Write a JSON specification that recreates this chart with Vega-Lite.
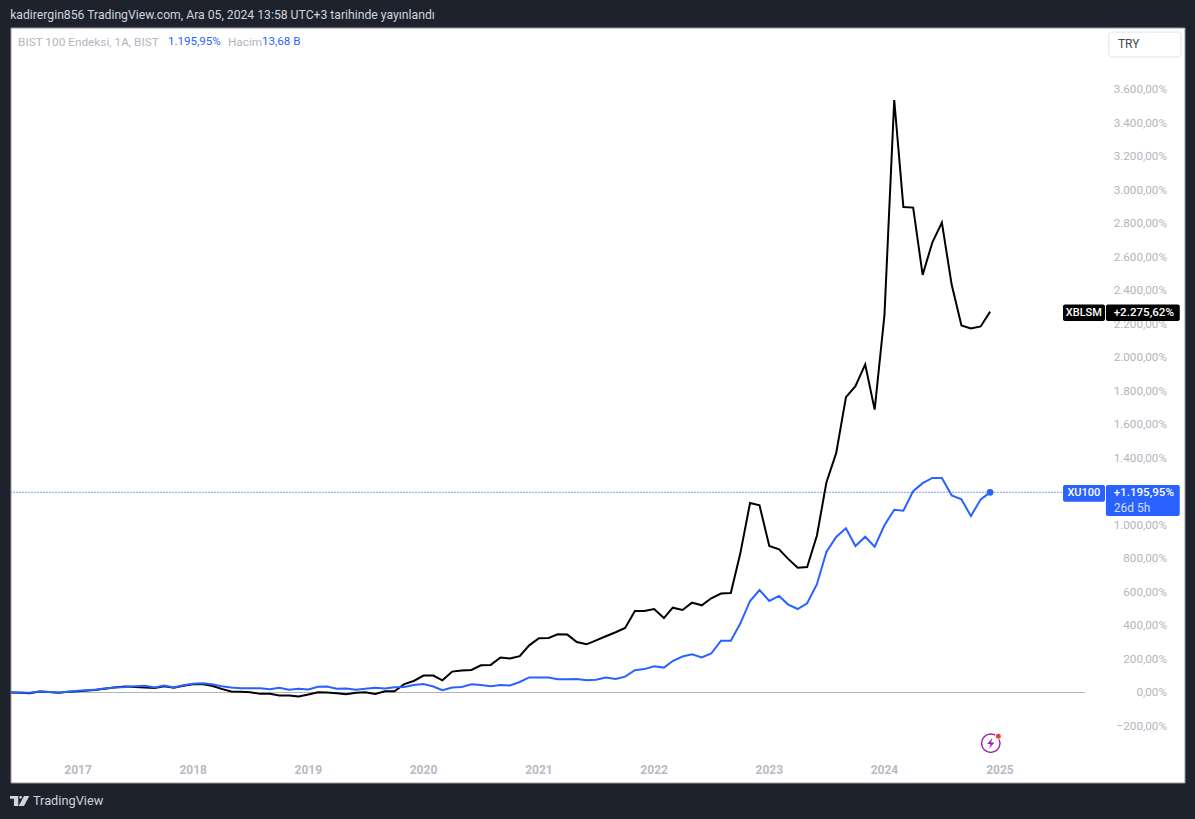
{
  "$schema": "https://vega.github.io/schema/vega-lite/v6.json",
  "description": "BIST 100 (XU100) and XBLSM percent change since 2016, monthly.",
  "autosize": "none",
  "width": 1174,
  "height": 755,
  "padding": {"left": 10.5, "top": 27.5, "right": 10.5, "bottom": 36},
  "background": "#1e222d",
  "view": {"fill": "#ffffff", "stroke": "#9598a1", "strokeWidth": 1},
  "config": {"font": "Roboto"},
  "datasets": {
    "monthly": [
      {"date":"2016-06-01","XBLSM":0,"XU100":0},{"date":"2016-07-01","XBLSM":-1,"XU100":0},{"date":"2016-08-01","XBLSM":-4,"XU100":-2},{"date":"2016-09-01","XBLSM":6,"XU100":6},{"date":"2016-10-01","XBLSM":3,"XU100":3},{"date":"2016-11-01","XBLSM":-1,"XU100":0},{"date":"2016-12-01","XBLSM":5,"XU100":5},
      {"date":"2017-01-01","XBLSM":8,"XU100":10},{"date":"2017-02-01","XBLSM":12,"XU100":14},{"date":"2017-03-01","XBLSM":16,"XU100":18},{"date":"2017-04-01","XBLSM":24,"XU100":25},{"date":"2017-05-01","XBLSM":32,"XU100":30},{"date":"2017-06-01","XBLSM":36,"XU100":33},{"date":"2017-07-01","XBLSM":33,"XU100":38},{"date":"2017-08-01","XBLSM":30,"XU100":40},{"date":"2017-09-01","XBLSM":27,"XU100":30},{"date":"2017-10-01","XBLSM":38,"XU100":42},{"date":"2017-11-01","XBLSM":28,"XU100":30},{"date":"2017-12-01","XBLSM":40,"XU100":44},
      {"date":"2018-01-01","XBLSM":50,"XU100":52},{"date":"2018-02-01","XBLSM":50,"XU100":55},{"date":"2018-03-01","XBLSM":40,"XU100":50},{"date":"2018-04-01","XBLSM":22,"XU100":38},{"date":"2018-05-01","XBLSM":6,"XU100":30},{"date":"2018-06-01","XBLSM":4,"XU100":26},{"date":"2018-07-01","XBLSM":2,"XU100":25},{"date":"2018-08-01","XBLSM":-8,"XU100":25},{"date":"2018-09-01","XBLSM":-8,"XU100":20},{"date":"2018-10-01","XBLSM":-18,"XU100":28},{"date":"2018-11-01","XBLSM":-18,"XU100":17},{"date":"2018-12-01","XBLSM":-24,"XU100":22},
      {"date":"2019-01-01","XBLSM":-12,"XU100":18},{"date":"2019-02-01","XBLSM":2,"XU100":34},{"date":"2019-03-01","XBLSM":0,"XU100":36},{"date":"2019-04-01","XBLSM":-4,"XU100":22},{"date":"2019-05-01","XBLSM":-10,"XU100":24},{"date":"2019-06-01","XBLSM":-2,"XU100":17},{"date":"2019-07-01","XBLSM":2,"XU100":22},{"date":"2019-08-01","XBLSM":-8,"XU100":28},{"date":"2019-09-01","XBLSM":8,"XU100":24},{"date":"2019-10-01","XBLSM":8,"XU100":32},{"date":"2019-11-01","XBLSM":50,"XU100":33},{"date":"2019-12-01","XBLSM":69,"XU100":45},
      {"date":"2020-01-01","XBLSM":101,"XU100":51},{"date":"2020-02-01","XBLSM":101,"XU100":36},{"date":"2020-03-01","XBLSM":73,"XU100":14},{"date":"2020-04-01","XBLSM":125,"XU100":30},{"date":"2020-05-01","XBLSM":131,"XU100":33},{"date":"2020-06-01","XBLSM":135,"XU100":49},{"date":"2020-07-01","XBLSM":163,"XU100":45},{"date":"2020-08-01","XBLSM":165,"XU100":37},{"date":"2020-09-01","XBLSM":209,"XU100":45},{"date":"2020-10-01","XBLSM":203,"XU100":42},{"date":"2020-11-01","XBLSM":217,"XU100":63},{"date":"2020-12-01","XBLSM":282,"XU100":90},
      {"date":"2021-01-01","XBLSM":324,"XU100":90},{"date":"2021-02-01","XBLSM":326,"XU100":90},{"date":"2021-03-01","XBLSM":348,"XU100":79},{"date":"2021-04-01","XBLSM":346,"XU100":79},{"date":"2021-05-01","XBLSM":302,"XU100":81},{"date":"2021-06-01","XBLSM":288,"XU100":73},{"date":"2021-07-01","XBLSM":312,"XU100":77},{"date":"2021-08-01","XBLSM":336,"XU100":90},{"date":"2021-09-01","XBLSM":360,"XU100":81},{"date":"2021-10-01","XBLSM":386,"XU100":95},{"date":"2021-11-01","XBLSM":487,"XU100":133},{"date":"2021-12-01","XBLSM":487,"XU100":140},
      {"date":"2022-01-01","XBLSM":499,"XU100":157},{"date":"2022-02-01","XBLSM":445,"XU100":149},{"date":"2022-03-01","XBLSM":507,"XU100":188},{"date":"2022-04-01","XBLSM":493,"XU100":215},{"date":"2022-05-01","XBLSM":537,"XU100":229},{"date":"2022-06-01","XBLSM":521,"XU100":209},{"date":"2022-07-01","XBLSM":563,"XU100":233},{"date":"2022-08-01","XBLSM":591,"XU100":310},{"date":"2022-09-01","XBLSM":595,"XU100":310},{"date":"2022-10-01","XBLSM":830,"XU100":412},{"date":"2022-11-01","XBLSM":1132,"XU100":547},{"date":"2022-12-01","XBLSM":1118,"XU100":612},
      {"date":"2023-01-01","XBLSM":875,"XU100":547},{"date":"2023-02-01","XBLSM":855,"XU100":577},{"date":"2023-03-01","XBLSM":800,"XU100":527},{"date":"2023-04-01","XBLSM":746,"XU100":499},{"date":"2023-05-01","XBLSM":750,"XU100":533},{"date":"2023-06-01","XBLSM":938,"XU100":647},{"date":"2023-07-01","XBLSM":1255,"XU100":840},{"date":"2023-08-01","XBLSM":1430,"XU100":929},{"date":"2023-09-01","XBLSM":1765,"XU100":981},{"date":"2023-10-01","XBLSM":1830,"XU100":875},{"date":"2023-11-01","XBLSM":1960,"XU100":931},{"date":"2023-12-01","XBLSM":1690,"XU100":871},
      {"date":"2024-01-01","XBLSM":2255,"XU100":999},{"date":"2024-02-01","XBLSM":3540,"XU100":1092},{"date":"2024-03-01","XBLSM":2900,"XU100":1086},{"date":"2024-04-01","XBLSM":2897,"XU100":1203},{"date":"2024-05-01","XBLSM":2495,"XU100":1251},{"date":"2024-06-01","XBLSM":2690,"XU100":1282},{"date":"2024-07-01","XBLSM":2808,"XU100":1282},{"date":"2024-08-01","XBLSM":2437,"XU100":1178},{"date":"2024-09-01","XBLSM":2193,"XU100":1154},{"date":"2024-10-01","XBLSM":2175,"XU100":1054},{"date":"2024-11-01","XBLSM":2187,"XU100":1154},{"date":"2024-12-01","XBLSM":2275.62,"XU100":1195.95}
    ],
    "refs": [
      {"name":"zero","date":"2016-06-01","end":"2025-09-28","value":0},
      {"name":"last","date":"2016-06-01","end":"2025-07-20","value":1195.95}
    ],
    "tags": [
      {"name":"try","date":"2025-12-12","end":"2026-07-29","value":3797,"top":3946},
      {"name":"black","date":"2025-07-20","end":"2025-11-30","value":2220,"top":2318},
      {"name":"black","date":"2025-12-03","end":"2026-07-25","value":2220,"top":2318},
      {"name":"blue","date":"2025-07-20","end":"2025-11-30","value":1140,"top":1240},
      {"name":"blue","date":"2025-12-03","end":"2026-07-25","value":1055,"top":1240}
    ],
    "notes": [
      {"kind":"header","date":"2016-05-31","value":4048,"text":"kadirergin856 TradingView.com, Ara 05, 2024 13:58 UTC+3 tarihinde yayınlandı"},
      {"kind":"legend","date":"2016-06-25","value":3886,"text":"BIST 100 Endeksi, 1A, BIST"},
      {"kind":"legendblue","date":"2017-10-13","value":3886,"text":"1.195,95%"},
      {"kind":"legend","date":"2018-04-21","value":3886,"text":"Hacim"},
      {"kind":"legendblue","date":"2018-08-07","value":3886,"text":"13,68 B"},
      {"kind":"footer","date":"2016-08-11","value":-648,"text":"TradingView"},
      {"kind":"try","date":"2026-01-10","value":3874,"text":"TRY"},
      {"kind":"tagname","date":"2025-09-24","value":2270,"text":"XBLSM"},
      {"kind":"tag","date":"2026-04-02","value":2270,"text":"+2.275,62%"},
      {"kind":"tagname","date":"2025-09-24","value":1192,"text":"XU100"},
      {"kind":"tag","date":"2026-04-02","value":1192,"text":"+1.195,95%"},
      {"kind":"countdown","date":"2025-12-28","value":1103,"text":"26d 5h"}
    ],
    "lastPoint": [{"date":"2024-12-01","value":1195.95}],
    "logo": [{"date":"2016-06-30","value":-648}],
    "ring": [{"date":"2024-12-03","value":-303}],
    "dot": [{"date":"2024-12-27","value":-261}]
  },
  "encoding": {
    "x": {
      "field": "date",
      "type": "temporal",
      "scale": {"type": "utc", "domain": ["2016-06-01", "2026-08-09"]},
      "axis": {
        "title": null,
        "grid": false,
        "domain": false,
        "ticks": false,
        "format": "%Y",
        "values": [{"year":2017,"utc":true},{"year":2018,"utc":true},{"year":2019,"utc":true},{"year":2020,"utc":true},{"year":2021,"utc":true},{"year":2022,"utc":true},{"year":2023,"utc":true},{"year":2024,"utc":true},{"year":2025,"utc":true}],
        "labelPadding": -18,
        "labelOffset": -0.5,
        "labelFontSize": 12,
        "labelFontWeight": "bold",
        "labelColor": "#b8bac4",
        "labelFlush": false,
        "labelOverlap": false
      }
    },
    "y": {
      "field": "value",
      "type": "quantitative",
      "scale": {"domain": [-537.5, 3973], "nice": false, "zero": false},
      "axis": {
        "title": null,
        "orient": "right",
        "grid": false,
        "domain": false,
        "ticks": false,
        "values": [-200,0,200,400,600,800,1000,1400,1600,1800,2000,2200,2400,2600,2800,3000,3200,3400,3600],
        "labelExpr": "replace(replace(replace(format(datum.value, ',.2f'), ',', '#'), '.', ','), '#', '.') + '%'",
        "labelAlign": "right",
        "labelPadding": -18,
        "labelOffset": -1,
        "labelFontSize": 11.7,
        "labelColor": "#b2b5be",
        "labelOverlap": false
      }
    }
  },
  "layer": [
    {
      "data": {"name": "refs", "format": {"parse": {"date": "date", "end": "date"}}},
      "transform": [{"filter": "datum.name === 'zero'"}],
      "mark": {"type": "rule", "color": "#b2b5be", "strokeWidth": 1},
      "encoding": {"x2": {"field": "end"}}
    },
    {
      "data": {"name": "refs", "format": {"parse": {"date": "date", "end": "date"}}},
      "transform": [{"filter": "datum.name === 'last'"}],
      "mark": {"type": "rule", "color": "#2962ff", "strokeWidth": 1.2, "strokeDash": [1, 2]},
      "encoding": {"x2": {"field": "end"}}
    },
    {
      "data": {"name": "monthly"},
      "transform": [{"fold": ["XBLSM", "XU100"], "as": ["series", "value"]}],
      "mark": {"type": "line", "strokeWidth": 2, "clip": true, "strokeJoin": "miter"},
      "encoding": {
        "color": {
          "field": "series",
          "type": "nominal",
          "scale": {"domain": ["XBLSM", "XU100"], "range": ["#000000", "#2962ff"]},
          "legend": null
        }
      }
    },
    {
      "data": {"name": "lastPoint"},
      "mark": {"type": "point", "filled": true, "color": "#2962ff", "size": 45, "opacity": 1}
    },
    {
      "data": {"name": "tags", "format": {"parse": {"date": "date", "end": "date"}}},
      "transform": [{"filter": "datum.name === 'black'"}],
      "mark": {"type": "rect", "color": "#000000", "cornerRadius": 2},
      "encoding": {"x2": {"field": "end"}, "y2": {"field": "top"}}
    },
    {
      "data": {"name": "tags", "format": {"parse": {"date": "date", "end": "date"}}},
      "transform": [{"filter": "datum.name === 'blue'"}],
      "mark": {"type": "rect", "color": "#2962ff", "cornerRadius": 2},
      "encoding": {"x2": {"field": "end"}, "y2": {"field": "top"}}
    },
    {
      "data": {"name": "tags", "format": {"parse": {"date": "date", "end": "date"}}},
      "transform": [{"filter": "datum.name === 'try'"}],
      "mark": {"type": "rect", "fill": "#ffffff", "stroke": "#e0e3eb", "strokeWidth": 1, "cornerRadius": 3},
      "encoding": {"x2": {"field": "end"}, "y2": {"field": "top"}}
    },
    {
      "data": {"name": "ring"},
      "mark": {"type": "point", "shape": "circle", "filled": false, "stroke": "#9c27b0", "strokeWidth": 1.5, "size": 340, "opacity": 1}
    },
    {
      "data": {"name": "ring"},
      "mark": {"type": "point", "shape": "M0.3,-1L-0.7,0.15L-0.05,0.15L-0.3,1L0.7,-0.15L0.05,-0.15Z", "filled": true, "color": "#9c27b0", "size": 110, "opacity": 1}
    },
    {
      "data": {"name": "dot"},
      "mark": {"type": "point", "filled": true, "fill": "#f23645", "stroke": "#ffffff", "strokeWidth": 1, "size": 36, "opacity": 1}
    },
    {
      "data": {"name": "logo"},
      "mark": {"type": "point", "shape": "M-1,-0.52L-0.14,-0.52L-0.14,0.52L-0.59,0.52L-0.59,-0.24L-1,-0.24ZM0.24,-0.38A0.14,0.14,0,1,1,-0.04,-0.38A0.14,0.14,0,1,1,0.24,-0.38ZM0.45,-0.52L1,-0.52L0.45,0.52L-0.1,0.52Z", "filled": true, "color": "#d1d4dc", "size": 374, "opacity": 1}
    },
    {
      "data": {"name": "notes"},
      "transform": [{"filter": "datum.kind === 'header'"}],
      "mark": {"type": "text", "align": "left", "baseline": "middle", "color": "#d1d4dc", "fontSize": 12.2},
      "encoding": {"text": {"field": "text"}}
    },
    {
      "data": {"name": "notes"},
      "transform": [{"filter": "datum.kind === 'legend'"}],
      "mark": {"type": "text", "align": "left", "baseline": "middle", "color": "#b2b5be", "fontSize": 11.8},
      "encoding": {"text": {"field": "text"}}
    },
    {
      "data": {"name": "notes"},
      "transform": [{"filter": "datum.kind === 'legendblue'"}],
      "mark": {"type": "text", "align": "left", "baseline": "middle", "color": "#2962ff", "fontSize": 11.6},
      "encoding": {"text": {"field": "text"}}
    },
    {
      "data": {"name": "notes"},
      "transform": [{"filter": "datum.kind === 'footer'"}],
      "mark": {"type": "text", "align": "left", "baseline": "middle", "color": "#d1d4dc", "fontSize": 12.8},
      "encoding": {"text": {"field": "text"}}
    },
    {
      "data": {"name": "notes"},
      "transform": [{"filter": "datum.kind === 'try'"}],
      "mark": {"type": "text", "align": "left", "baseline": "middle", "color": "#434651", "fontSize": 12},
      "encoding": {"text": {"field": "text"}}
    },
    {
      "data": {"name": "notes"},
      "transform": [{"filter": "datum.kind === 'tag'"}],
      "mark": {"type": "text", "align": "center", "baseline": "middle", "color": "#ffffff", "fontSize": 11.6, "fontWeight": 500},
      "encoding": {"text": {"field": "text"}}
    },
    {
      "data": {"name": "notes"},
      "transform": [{"filter": "datum.kind === 'tagname'"}],
      "mark": {"type": "text", "align": "center", "baseline": "middle", "color": "#ffffff", "fontSize": 11, "fontWeight": 500},
      "encoding": {"text": {"field": "text"}}
    },
    {
      "data": {"name": "notes"},
      "transform": [{"filter": "datum.kind === 'countdown'"}],
      "mark": {"type": "text", "align": "left", "baseline": "middle", "color": "#d4deff", "fontSize": 12},
      "encoding": {"text": {"field": "text"}}
    }
  ]
}
